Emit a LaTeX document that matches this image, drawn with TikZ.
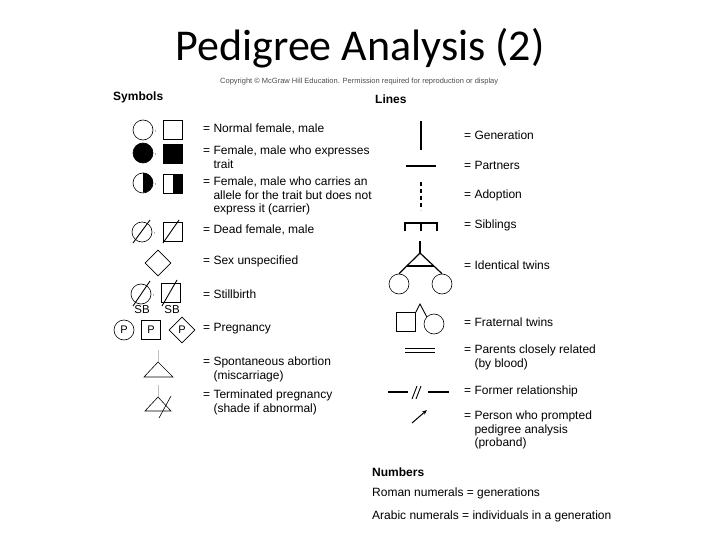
\documentclass[tikz,border=0pt]{standalone}
\usepackage{fontspec}
\setmainfont{Liberation Sans}
\newfontfamily\titlefont{Carlito}
\usetikzlibrary{shapes.geometric,arrows.meta,calc}

\tikzset{
  lbl/.style={anchor=west, inner sep=0pt, font=\fontsize{12}{13.5}\selectfont},
  lbltwo/.style={anchor=north west, inner sep=0pt, align=left, font=\fontsize{12}{13.5}\selectfont},
  headtxt/.style={anchor=west, inner sep=0pt, font=\fontsize{12}{13}\selectfont\bfseries},
  female/.style={circle, draw, line width=0.6pt, minimum size=20pt, inner sep=0pt, font=\fontsize{11}{11}\selectfont},
  male/.style={rectangle, draw, line width=0.6pt, minimum size=19pt, inner sep=0pt, font=\fontsize{11}{11}\selectfont},
  unknown/.style={diamond, draw, line width=0.6pt, minimum size=26pt, inner sep=0pt, font=\fontsize{11}{11}\selectfont},
  deadline/.style={line width=0.9pt},
  kinline/.style={line width=1.2pt},
  faint/.style={draw=black!25, line width=0.4pt}
}

\begin{document}
\begin{tikzpicture}[x=1pt, y=-1pt]
\useasboundingbox (0,0) rectangle (720,540);
\node (title) at (360,48) {\titlefont\fontsize{44}{52}\selectfont Pedigree Analysis (2)};
\node[anchor=west, inner sep=0pt, text=black!70, font=\fontsize{7.5}{8}\selectfont] (copy) at (220,82)
  {Copyright \textcopyright{} McGraw Hill Education. Permission required for reproduction or display};

% symbols column
\node[headtxt] (symhead) at (113,97) {Symbols};

\node[female] (f1) at (143,130) {};
\node[male]   (m1) at (173,130) {};
\node[female, fill=black] (f2) at (143,153) {};
\node[male, fill=black]   (m2) at (173,154) {};
\node[female] (f3) at (143,183) {};
\node[male]   (m3) at (173,184) {};
\fill (f3.north) arc[start angle=-90, end angle=90, radius=10] -- cycle;
\fill (m3.north) rectangle (m3.south east);
\node[female] (f4) at (142,232) {};
\node[male]   (m4) at (173,232) {};
\draw[deadline] ($(f4)+(-9,11)$) -- ($(f4)+(8,-12)$);
\draw[deadline] ($(m4)+(-10,11)$) -- ($(m4)+(6,-12)$);
\node[unknown] (u5) at (158,263) {};
\node[female] (f6) at (141,294) {};
\node[male]   (m6) at (171,293) {};
\node[inner sep=0pt, font=\fontsize{11.5}{11.5}\selectfont] (sb1) at (142,310) {SB};
\node[inner sep=0pt, font=\fontsize{11.5}{11.5}\selectfont] (sb2) at (172,310) {SB};
\draw[deadline] ($(f6)+(-8,12)$) -- ($(f6)+(9,-13)$);
\draw[deadline] ($(m6)+(-9,13)$) -- ($(m6)+(6,-13)$);
\foreach \nd in {f1,f2,f3,f4,f6} \node[inner sep=0pt, font=\fontsize{6}{6}\selectfont] at ($(\nd)+(12.5,2)$) {,};
\node[female] (f7) at (124,330) {P};
\node[male]   (m7) at (151,330) {P};
\node[unknown] (u7) at (182,330) {P};
\coordinate (sa) at (158,362);
\draw[faint] (158,350) -- (sa);
\draw[line width=0.6pt] (sa) -- (173,377) -- (144,377) -- cycle;
\coordinate (tp) at (158,397);
\draw[faint] (158,385) -- (tp);
\draw[line width=0.6pt] (tp) -- (171,411) -- (145,411) -- cycle;
\draw[line width=0.6pt] (159,418) -- (171,396);

\node[lbl] (l1) at (203,129) {= Normal female, male};
\node[lbltwo] (l2) at (203,146) {= Female, male who expresses\\\phantom{= }trait};
\node[lbltwo] (l3) at (203,177) {= Female, male who carries an\\\phantom{= }allele for the trait but does not\\\phantom{= }express it (carrier)};
\node[lbl] (l4) at (203,230) {= Dead female, male};
\node[lbl] (l5) at (203,261) {= Sex unspecified};
\node[lbl] (l6) at (203,294) {= Stillbirth};
\node[lbl] (l7) at (203,329) {= Pregnancy};
\node[lbltwo] (l8) at (203,357) {= Spontaneous abortion\\\phantom{= }(miscarriage)};
\node[lbltwo] (l9) at (203,390) {= Terminated pregnancy\\\phantom{= }(shade if abnormal)};

% lines column
\node[headtxt] (linehead) at (375,99) {Lines};

\coordinate (g1) at (421,121);
\coordinate (g2) at (421,150);
\draw[kinline] (g1) -- (g2);
\coordinate (p1) at (406,166);
\coordinate (p2) at (436,166);
\draw[kinline] (p1) -- (p2);
\coordinate (a1) at (421,182);
\coordinate (a2) at (421,210);
\draw[kinline, dash pattern=on 4pt off 3pt] (a1) -- (a2);
\coordinate (s1) at (405,231);
\coordinate (s2) at (421,231);
\coordinate (s3) at (437,231);
\coordinate (stop) at (437,223);
\draw[kinline] (s1) |- (stop) -- (s3);
\draw[kinline] (s2) -- (s2 |- stop);

\node[female] (it1) at (399,284) {};
\node[female] (it2) at (442,284) {};
\coordinate (itop) at (420,241);
\coordinate (iapex) at (420,253);
\draw[kinline] (itop) -- (iapex);
\draw[kinline] (it1.north) -- (iapex) -- (it2.north);
\draw[kinline] ($(iapex)!0.63!(it1.north)$) -- ($(iapex)!0.63!(it2.north)$);

\node[male]   (ft1) at (406,322) {};
\node[female] (ft2) at (434,324) {};
\coordinate (fapex) at (420,304);
\draw[line width=0.9pt] (ft1.north east) -- (fapex) -- (ft2.north west);

\coordinate (c1) at (405,350.5);
\coordinate (c2) at (435,350.5);
\draw[line width=0.9pt] ($(c1)+(0,-1.6)$) -- ($(c2)+(0,-1.6)$);
\draw[line width=0.9pt] ($(c1)+(0,1.6)$) -- ($(c2)+(0,1.6)$);

\coordinate (r1) at (388,392);
\coordinate (r2) at (408,392);
\coordinate (r3) at (428,392);
\coordinate (r4) at (449,392);
\draw[kinline] (r1) -- (r2);
\draw[kinline] (r3) -- (r4);
\draw[line width=0.9pt] (412,399) -- (417,386);
\draw[line width=0.9pt] (416,399) -- (421,386);

\coordinate (pb1) at (412,423);
\coordinate (pb2) at (427,410);
\draw[line width=1pt, -{Stealth[length=5pt, width=4pt]}] (pb1) -- (pb2);

\node[lbl] (k1) at (464,135) {= Generation};
\node[lbl] (k2) at (464,165) {= Partners};
\node[lbl] (k3) at (464,195) {= Adoption};
\node[lbl] (k4) at (464,225) {= Siblings};
\node[lbl] (k5) at (464,265) {= Identical twins};
\node[lbl] (k6) at (464,322) {= Fraternal twins};
\node[lbltwo] (k7) at (464,345) {= Parents closely related\\\phantom{= }(by blood)};
\node[lbl] (k8) at (464,391) {= Former relationship};
\node[lbltwo] (k9) at (464,411) {= Person who prompted\\\phantom{= }pedigree analysis\\\phantom{= }(proband)};

% numbers
\node[headtxt] (numhead) at (372,472) {Numbers};
\node[lbl] (n1) at (372,493) {Roman numerals = generations};
\node[lbl] (n2) at (372,516) {Arabic numerals = individuals in a generation};
\end{tikzpicture}
\end{document}
